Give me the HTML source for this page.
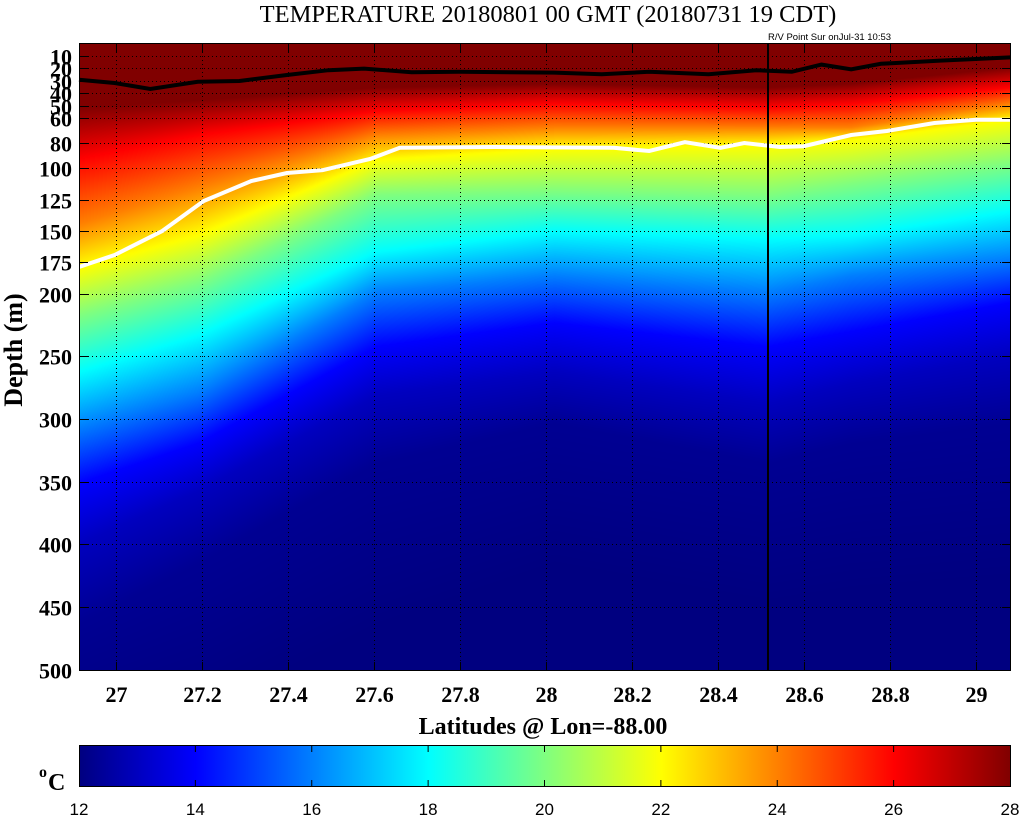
<!DOCTYPE html>
<html><head><meta charset="utf-8"><style>
html,body{margin:0;padding:0;background:#fff;width:1025px;height:821px;overflow:hidden}
#c{position:absolute;left:79px;top:43px}
svg{position:absolute;left:0;top:0}
</style></head><body>
<canvas id="c" width="931" height="627"></canvas>
<svg width="1025" height="821" xmlns="http://www.w3.org/2000/svg">
<defs><linearGradient id="jet" x1="0" x2="1" y1="0" y2="0">
<stop offset="0" stop-color="#000080"/><stop offset="0.125" stop-color="#0000ff"/>
<stop offset="0.375" stop-color="#00ffff"/><stop offset="0.625" stop-color="#ffff00"/>
<stop offset="0.875" stop-color="#ff0000"/><stop offset="1" stop-color="#800000"/></linearGradient></defs>
<g id="grid" stroke="#000" stroke-width="1" stroke-dasharray="1,3" fill="none"></g>
<polyline id="wl" fill="none" stroke="#fff" stroke-width="4"/>
<polyline id="bl" fill="none" stroke="#000" stroke-width="4"/>
<line x1="768" y1="43" x2="768" y2="670" stroke="#000" stroke-width="2"/>
<rect x="79.5" y="43.5" width="931" height="627" fill="none" stroke="#000"/>
<g id="ticks" stroke="#000"></g>
<text x="548" y="22" font-family="Liberation Serif" font-size="24.5" text-anchor="middle">TEMPERATURE 20180801 00 GMT (20180731 19 CDT)</text>
<text x="768" y="40" font-family="Liberation Sans" font-size="9.5">R/V Point Sur onJul-31 10:53</text>
<g id="ylab" font-family="Liberation Serif" font-size="22" font-weight="bold" text-anchor="end"></g>
<g id="xlab" font-family="Liberation Serif" font-size="22" font-weight="bold" text-anchor="middle"></g>
<text x="543" y="734" font-family="Liberation Serif" font-size="24" font-weight="bold" text-anchor="middle">Latitudes @ Lon=-88.00</text>
<text transform="translate(22,350) rotate(-90)" font-family="Liberation Serif" font-size="26" font-weight="bold" text-anchor="middle">Depth (m)</text>
<rect x="79.5" y="745.5" width="931" height="41" fill="url(#jet)" stroke="#000"/>
<g id="cb" font-family="Liberation Sans" font-size="17" text-anchor="middle"></g>
<text x="48" y="790" font-family="Liberation Serif" font-size="24" font-weight="bold">C</text>
<text x="39" y="777" font-family="Liberation Serif" font-size="16" font-weight="bold">o</text>
</svg>
<script>
var NS="http://www.w3.org/2000/svg";
function el(p,t,a,txt){var e=document.createElementNS(NS,t);for(var k in a)e.setAttribute(k,a[k]);if(txt!==undefined)e.textContent=txt;document.getElementById(p).appendChild(e);}
function yd(d){return 43+1.2533*d;}
function xl(l){return 116+(l-27)*430;}
var depths=[10,20,30,40,50,60,80,100,125,150,175,200,250,300,350,400,450,500];
depths.forEach(function(d){var y=Math.round(yd(d))+0.5;
 if(d<500)el("grid","line",{x1:80,x2:1010,y1:y,y2:y});
 el("ticks","line",{x1:80,x2:88,y1:y,y2:y});el("ticks","line",{x1:1002,x2:1010,y1:y,y2:y});
 el("ylab","text",{x:72,y:y+8},String(d));});
for(var i=0;i<=10;i++){var l=27+i*0.2,x=Math.round(xl(l))+0.5;
 el("grid","line",{x1:x,x2:x,y1:44,y2:670});
 el("ticks","line",{x1:x,x2:x,y1:44,y2:52});el("ticks","line",{x1:x,x2:x,y1:662,y2:670});
 el("xlab","text",{x:x,y:702},(Math.round(l*10)/10).toString());}
for(var t=12;t<=28;t+=2){var x=79+(t-12)*931/16;
 if(t>12&&t<28){el("cb","line",{x1:x,x2:x,y1:746,y2:752,stroke:"#000"});el("cb","line",{x1:x,x2:x,y1:780,y2:786,stroke:"#000"});}
 el("cb","text",{x:x,y:815},String(t));}
function pts(a){return a.map(function(p){return (79+p[0]*0.594).toFixed(1)+","+(43+p[1]*0.4).toFixed(1);}).join(" ");}
document.getElementById("bl").setAttribute("points",pts([[0,92],[60,100],[120,115],[200,97],[270,95],[350,80],[420,68],[480,64],[560,73],[640,72],[800,74],[880,78],[960,72],[1060,78],[1140,68],[1200,72],[1250,54],[1300,66],[1350,52],[1450,44],[1568,36]]));
document.getElementById("wl").setAttribute("points",pts([[0,560],[60,530],[140,470],[210,395],[290,345],[350,325],[410,318],[490,290],[540,262],[700,260],[900,262],[960,270],[1020,248],[1080,262],[1120,250],[1180,260],[1220,258],[1300,230],[1360,220],[1440,200],[1510,192],[1568,192]]));
var T=[28,26,24,22,20,18,16,14,13,12.3,12];
var cols=[
 [0,[51,92,144,179,217,262,306,351,399,463,560]],
 [119,[45,73,115,153,191,233,278,319,357,415,540]],
 [297,[35,54,73,93,121,166,198,242,281,335,470]],
 [475,[32,48,67,84,118,150,185,223,262,303,420]],
 [689,[35,51,67,81,121,156,198,242,287,335,450]],
 [772,[32,48,67,77,112,153,185,230,271,319,440]],
 [931,[19,35,48,61,96,134,172,207,249,303,430]]];
function jet(t){t=Math.max(0,Math.min(1,t));function c(v){return Math.round(255*Math.max(0,Math.min(1,v)));}
 return [c(1.5-Math.abs(4*t-3)),c(1.5-Math.abs(4*t-2)),c(1.5-Math.abs(4*t-1))];}
var cv=document.getElementById("c"),ctx=cv.getContext("2d"),img=ctx.createImageData(931,627);
for(var x=0;x<931;x++){
 var k=0;while(k<cols.length-2&&x>cols[k+1][0])k++;
 var f=(x-cols[k][0])/(cols[k+1][0]-cols[k][0]);
 var D=cols[k][1].map(function(v,i){return v+(cols[k+1][1][i]-v)*f;});
 for(var y=0;y<627;y++){var d=y/1.2533,tv;
  if(d<=D[0])tv=28;else if(d>=D[D.length-1])tv=12;else{var j=0;while(d>D[j+1])j++;tv=T[j]+(T[j+1]-T[j])*(d-D[j])/(D[j+1]-D[j]);}
  var c=jet((tv-12)/16),o=(y*931+x)*4;img.data[o]=c[0];img.data[o+1]=c[1];img.data[o+2]=c[2];img.data[o+3]=255;}}
ctx.putImageData(img,0,0);
</script>
</body></html>
